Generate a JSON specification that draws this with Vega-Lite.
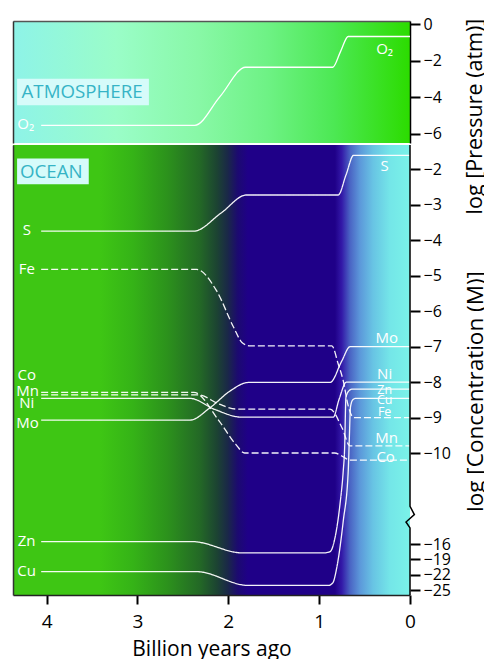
{
  "$schema": "https://vega.github.io/schema/vega-lite/v6.json",
  "padding": {"left": 13, "top": 16, "right": 0, "bottom": 0},
  "background": "white",
  "bounds": "flush",
  "config": {
    "font": "Open Sans",
    "view": {"stroke": null},
    "axis": {"grid": false, "labelFont": "Open Sans", "titleFont": "Open Sans", "titleFontWeight": "normal", "labelColor": "#000", "titleColor": "#000", "tickColor": "#000", "domainColor": "#000"}
  },
  "datasets": {
    "boxes": [
      {"panel": "atm", "text": "ATMOSPHERE", "age": 4.325, "age2": 2.874, "value": -2.98, "value2": -4.44, "tage": 3.61, "tvalue": -3.70},
      {"panel": "ocean", "text": "OCEAN", "age": 4.325, "age2": 3.536, "value": -1.69, "value2": -2.42, "tage": 3.948, "tvalue": -2.08}
    ],
    "atm": [
      {"element": "O2", "style": "solid", "age": 4.06, "value": -5.54},
      {"element": "O2", "style": "solid", "age": 2.37, "value": -5.54},
      {"element": "O2", "style": "solid", "age": 2.09, "value": -3.95},
      {"element": "O2", "style": "solid", "age": 1.81, "value": -2.35},
      {"element": "O2", "style": "solid", "age": 0.85, "value": -2.35},
      {"element": "O2", "style": "solid", "age": 0.765, "value": -1.49},
      {"element": "O2", "style": "solid", "age": 0.68, "value": -0.66},
      {"element": "O2", "style": "solid", "age": 0, "value": -0.66}
    ],
    "ocean": [
      {"element": "S", "style": "solid", "age": 4.06, "value": -3.74},
      {"element": "S", "style": "solid", "age": 2.38, "value": -3.74},
      {"element": "S", "style": "solid", "age": 2.08, "value": -3.23},
      {"element": "S", "style": "solid", "age": 1.80, "value": -2.72},
      {"element": "S", "style": "solid", "age": 0.79, "value": -2.72},
      {"element": "S", "style": "solid", "age": 0.705, "value": -2.16},
      {"element": "S", "style": "solid", "age": 0.62, "value": -1.60},
      {"element": "S", "style": "solid", "age": 0, "value": -1.60},
      {"element": "Fe", "style": "dashed", "age": 4.06, "value": -4.82},
      {"element": "Fe", "style": "dashed", "age": 2.35, "value": -4.82},
      {"element": "Fe", "style": "dashed", "age": 2.13, "value": -5.42},
      {"element": "Fe", "style": "dashed", "age": 1.94, "value": -6.46},
      {"element": "Fe", "style": "dashed", "age": 1.85, "value": -6.88},
      {"element": "Fe", "style": "dashed", "age": 1.76, "value": -6.98},
      {"element": "Fe", "style": "dashed", "age": 0.86, "value": -6.98},
      {"element": "Fe", "style": "dashed", "age": 0.79, "value": -7.49},
      {"element": "Fe", "style": "dashed", "age": 0.735, "value": -7.96},
      {"element": "Fe", "style": "dashed", "age": 0.68, "value": -8.67},
      {"element": "Fe", "style": "dashed", "age": 0.62, "value": -9.0},
      {"element": "Fe", "style": "dashed", "age": 0, "value": -9.0},
      {"element": "Co", "style": "dashed", "age": 4.06, "value": -8.29},
      {"element": "Co", "style": "dashed", "age": 2.38, "value": -8.29},
      {"element": "Co", "style": "dashed", "age": 2.10, "value": -9.1},
      {"element": "Co", "style": "dashed", "age": 1.92, "value": -9.75},
      {"element": "Co", "style": "dashed", "age": 1.82, "value": -10.0},
      {"element": "Co", "style": "dashed", "age": 0.83, "value": -10.0},
      {"element": "Co", "style": "dashed", "age": 0.75, "value": -10.2},
      {"element": "Co", "style": "dashed", "age": 0.66, "value": -10.47},
      {"element": "Co", "style": "dashed", "age": 0, "value": -10.47},
      {"element": "Mn", "style": "dashed", "age": 4.06, "value": -8.36},
      {"element": "Mn", "style": "dashed", "age": 2.33, "value": -8.36},
      {"element": "Mn", "style": "dashed", "age": 2.10, "value": -8.62},
      {"element": "Mn", "style": "dashed", "age": 1.91, "value": -8.76},
      {"element": "Mn", "style": "dashed", "age": 0.88, "value": -8.76},
      {"element": "Mn", "style": "dashed", "age": 0.75, "value": -9.28},
      {"element": "Mn", "style": "dashed", "age": 0.66, "value": -9.80},
      {"element": "Mn", "style": "dashed", "age": 0, "value": -9.80},
      {"element": "Ni", "style": "solid", "age": 4.06, "value": -8.46},
      {"element": "Ni", "style": "solid", "age": 2.42, "value": -8.46},
      {"element": "Ni", "style": "solid", "age": 2.15, "value": -8.77},
      {"element": "Ni", "style": "solid", "age": 1.85, "value": -8.99},
      {"element": "Ni", "style": "solid", "age": 0.845, "value": -8.99},
      {"element": "Ni", "style": "solid", "age": 0.78, "value": -8.48},
      {"element": "Ni", "style": "solid", "age": 0.70, "value": -8.0},
      {"element": "Ni", "style": "solid", "age": 0, "value": -8.0},
      {"element": "Mo", "style": "solid", "age": 4.06, "value": -9.07},
      {"element": "Mo", "style": "solid", "age": 2.42, "value": -9.07},
      {"element": "Mo", "style": "solid", "age": 2.20, "value": -8.72},
      {"element": "Mo", "style": "solid", "age": 1.98, "value": -8.25},
      {"element": "Mo", "style": "solid", "age": 1.78, "value": -8.01},
      {"element": "Mo", "style": "solid", "age": 0.88, "value": -8.01},
      {"element": "Mo", "style": "solid", "age": 0.75, "value": -7.4},
      {"element": "Mo", "style": "solid", "age": 0.66, "value": -7.0},
      {"element": "Mo", "style": "solid", "age": 0, "value": -7.0},
      {"element": "Zn", "style": "solid", "age": 4.06, "value": -15.84},
      {"element": "Zn", "style": "solid", "age": 2.40, "value": -15.84},
      {"element": "Zn", "style": "solid", "age": 1.84, "value": -17.75},
      {"element": "Zn", "style": "solid", "age": 0.95, "value": -17.75},
      {"element": "Zn", "style": "solid", "age": 0.88, "value": -17.5},
      {"element": "Zn", "style": "solid", "age": 0.826, "value": -15.6},
      {"element": "Zn", "style": "solid", "age": 0.771, "value": -13.4},
      {"element": "Zn", "style": "solid", "age": 0.735, "value": -11.2},
      {"element": "Zn", "style": "solid", "age": 0.72, "value": -9.9},
      {"element": "Zn", "style": "solid", "age": 0.705, "value": -8.43},
      {"element": "Zn", "style": "solid", "age": 0.67, "value": -8.24},
      {"element": "Zn", "style": "solid", "age": 0.64, "value": -8.2},
      {"element": "Zn", "style": "solid", "age": 0, "value": -8.2},
      {"element": "Cu", "style": "solid", "age": 4.06, "value": -21.4},
      {"element": "Cu", "style": "solid", "age": 2.35, "value": -21.4},
      {"element": "Cu", "style": "solid", "age": 1.78, "value": -24.1},
      {"element": "Cu", "style": "solid", "age": 0.90, "value": -24.1},
      {"element": "Cu", "style": "solid", "age": 0.85, "value": -23.6},
      {"element": "Cu", "style": "solid", "age": 0.807, "value": -20.7},
      {"element": "Cu", "style": "solid", "age": 0.735, "value": -14.5},
      {"element": "Cu", "style": "solid", "age": 0.68, "value": -11.2},
      {"element": "Cu", "style": "solid", "age": 0.668, "value": -9.6},
      {"element": "Cu", "style": "solid", "age": 0.655, "value": -8.7},
      {"element": "Cu", "style": "solid", "age": 0.63, "value": -8.5},
      {"element": "Cu", "style": "solid", "age": 0.60, "value": -8.46},
      {"element": "Cu", "style": "solid", "age": 0, "value": -8.46}
    ],
    "labels": [
      {"panel": "atm", "side": "left", "label": "O₂", "age": 4.23, "value": -5.45},
      {"panel": "atm", "side": "right", "label": "O₂", "age": 0.28, "value": -1.36},
      {"panel": "ocean", "side": "left", "label": "S", "age": 4.218, "value": -3.71},
      {"panel": "ocean", "side": "left", "label": "Fe", "age": 4.218, "value": -4.81},
      {"panel": "ocean", "side": "left", "label": "Co", "age": 4.218, "value": -7.8},
      {"panel": "ocean", "side": "left", "label": "Mn", "age": 4.21, "value": -8.25},
      {"panel": "ocean", "side": "left", "label": "Ni", "age": 4.218, "value": -8.6},
      {"panel": "ocean", "side": "left", "label": "Mo", "age": 4.21, "value": -9.16},
      {"panel": "ocean", "side": "left", "label": "Zn", "age": 4.22, "value": -15.82},
      {"panel": "ocean", "side": "left", "label": "Cu", "age": 4.22, "value": -21.32},
      {"panel": "ocean", "side": "right", "label": "S", "age": 0.279, "value": -1.91},
      {"panel": "ocean", "side": "right", "label": "Mo", "age": 0.257, "value": -6.76},
      {"panel": "ocean", "side": "right", "label": "Ni", "age": 0.279, "value": -7.77},
      {"panel": "ocean", "side": "right", "label": "Zn", "age": 0.279, "value": -8.21},
      {"panel": "ocean", "side": "right", "label": "Cu", "age": 0.279, "value": -8.51},
      {"panel": "ocean", "side": "right", "label": "Fe", "age": 0.279, "value": -8.85},
      {"panel": "ocean", "side": "right", "label": "Mn", "age": 0.257, "value": -9.58},
      {"panel": "ocean", "side": "right", "label": "Co", "age": 0.268, "value": -10.25}
    ],
    "axisBreak": [
      {"i": 0, "age": 0, "value": -1.31},
      {"i": 1, "age": 0, "value": -13.51},
      {"i": 2, "age": -0.048, "value": -14.06},
      {"i": 3, "age": 0.044, "value": -14.55},
      {"i": 4, "age": 0, "value": -14.94},
      {"i": 5, "age": 0, "value": -25.97}
    ]
  },
  "spacing": 2,
  "vconcat": [
    {
      "width": 397,
      "height": 122,
      "view": {
        "stroke": null,
        "fill": {
          "gradient": "linear", "x1": 0, "y1": 0, "x2": 1, "y2": 0,
          "stops": [
            {"offset": 0, "color": "#8ef3e8"},
            {"offset": 0.26, "color": "#9afdc8"},
            {"offset": 0.47, "color": "#88f8a6"},
            {"offset": 0.64, "color": "#6ef285"},
            {"offset": 0.81, "color": "#4ce853"},
            {"offset": 1, "color": "#2cdc00"}
          ]
        }
      },
      "resolve": {"axis": {"y": "independent"}},
      "layer": [
        {
          "data": {"name": "boxes"},
          "transform": [{"filter": "datum.panel === 'atm'"}],
          "mark": {"type": "rect", "color": "#d6fbfa"},
          "encoding": {
            "x": {"field": "age", "type": "quantitative", "scale": {"domain": [0, 4.37], "reverse": true, "nice": false, "zero": false},
                  "axis": {"orient": "top", "labels": false, "ticks": false, "title": null, "domainColor": "#555", "domainWidth": 1.5}},
            "x2": {"field": "age2"},
            "y": {"field": "value", "type": "quantitative", "scale": {"domain": [-6.51, 0.19], "nice": false, "zero": false},
                  "axis": {"orient": "left", "labels": false, "ticks": false, "title": null, "domainColor": "#333", "domainWidth": 1.5}},
            "y2": {"field": "value2"}
          }
        },
        {
          "data": {"name": "boxes"},
          "transform": [{"filter": "datum.panel === 'atm'"}],
          "mark": {"type": "text", "color": "#36b4c6", "fontSize": 18.7, "align": "center", "baseline": "middle"},
          "encoding": {
            "x": {"field": "tage", "type": "quantitative"},
            "y": {"field": "tvalue", "type": "quantitative", "axis": null},
            "text": {"field": "text"}
          }
        },
        {
          "data": {"name": "atm"},
          "mark": {"type": "line", "color": "white", "strokeWidth": 1.3, "interpolate": "monotone"},
          "encoding": {
            "x": {"field": "age", "type": "quantitative"},
            "y": {"field": "value", "type": "quantitative",
                  "axis": {"orient": "right", "values": [0, -2, -4, -6], "title": "log [Pressure (atm)]", "titleAngle": 270, "titleX": 65, "titleY": 95, "titleAlign": "center", "titleBaseline": "middle", "titleFontSize": 21.5, "labelFontSize": 16, "tickSize": 10, "tickWidth": 2, "labelPadding": 3, "domainWidth": 1.5, "labelOverlap": false}},
            "order": {"field": "age", "sort": "descending"}
          }
        },
        {
          "data": {"name": "labels"},
          "transform": [{"filter": "datum.panel === 'atm'"}],
          "mark": {"type": "text", "color": "white", "fontSize": 15, "align": "center", "baseline": "middle"},
          "encoding": {
            "x": {"field": "age", "type": "quantitative"},
            "y": {"field": "value", "type": "quantitative", "axis": null},
            "text": {"field": "label"}
          }
        }
      ]
    },
    {
      "width": 397,
      "height": 450,
      "view": {
        "stroke": null,
        "fill": {
          "gradient": "linear", "x1": 0, "y1": 0, "x2": 1, "y2": 0,
          "stops": [
            {"offset": 0, "color": "#3ec614"},
            {"offset": 0.219, "color": "#3ec614"},
            {"offset": 0.302, "color": "#35b317"},
            {"offset": 0.388, "color": "#2c921c"},
            {"offset": 0.471, "color": "#236826"},
            {"offset": 0.513, "color": "#1c4432"},
            {"offset": 0.541, "color": "#1a2848"},
            {"offset": 0.566, "color": "#1c0a70"},
            {"offset": 0.592, "color": "#1f0088"},
            {"offset": 0.811, "color": "#1f0088"},
            {"offset": 0.828, "color": "#3318a8"},
            {"offset": 0.849, "color": "#4a64c4"},
            {"offset": 0.874, "color": "#5c98da"},
            {"offset": 0.907, "color": "#68c4e4"},
            {"offset": 0.95, "color": "#74e6e8"},
            {"offset": 1, "color": "#7af2e8"}
          ]
        }
      },
      "resolve": {"axis": {"y": "independent"}},
      "layer": [
        {
          "data": {"name": "boxes"},
          "transform": [{"filter": "datum.panel === 'ocean'"}],
          "mark": {"type": "rect", "color": "#d6fbfa"},
          "encoding": {
            "x": {"field": "age", "type": "quantitative", "scale": {"domain": [0, 4.37], "reverse": true, "nice": false, "zero": false},
                  "axis": {"orient": "bottom", "values": [0, 1, 2, 3, 4], "format": "d", "title": "Billion years ago", "titleFontSize": 21, "labelFontSize": 19, "labelFlush": false, "tickSize": 9, "tickWidth": 2, "labelPadding": 8, "titlePadding": 7, "domainColor": "#222", "domainWidth": 1.5}},
            "x2": {"field": "age2"},
            "y": {"field": "value", "type": "quantitative", "scale": {"domain": [-25.97, -16, -10, -1.31], "range": [450, 399, 308, 0], "nice": false, "zero": false},
                  "axis": {"orient": "left", "labels": false, "ticks": false, "title": null, "domainColor": "#333", "domainWidth": 1.5}},
            "y2": {"field": "value2"}
          }
        },
        {
          "data": {"name": "boxes"},
          "transform": [{"filter": "datum.panel === 'ocean'"}],
          "mark": {"type": "text", "color": "#36b4c6", "fontSize": 18.7, "align": "center", "baseline": "middle"},
          "encoding": {
            "x": {"field": "tage", "type": "quantitative"},
            "y": {"field": "tvalue", "type": "quantitative", "axis": null},
            "text": {"field": "text"}
          }
        },
        {
          "data": {"name": "ocean"},
          "mark": {"type": "line", "color": "white", "strokeWidth": 1.3, "interpolate": "monotone", "opacity": 0.95},
          "encoding": {
            "x": {"field": "age", "type": "quantitative"},
            "y": {"field": "value", "type": "quantitative",
                  "axis": {"orient": "right", "values": [-2, -3, -4, -5, -6, -7, -8, -9, -10, -16, -19, -22, -25], "title": "log [Concentration (M)]", "titleAngle": 270, "titleX": 65, "titleY": 246, "titleAlign": "center", "titleBaseline": "middle", "titleFontSize": 22.5, "labelFontSize": 16, "tickSize": 10, "tickWidth": 2, "labelPadding": 3, "domain": false, "labelOverlap": false}},
            "detail": {"field": "element"},
            "strokeDash": {"field": "style", "type": "nominal", "scale": {"domain": ["solid", "dashed"], "range": [[1, 0], [7, 3]]}, "legend": null},
            "order": {"field": "age", "sort": "descending"}
          }
        },
        {
          "data": {"name": "axisBreak"},
          "mark": {"type": "line", "color": "black", "strokeWidth": 1.5, "clip": false},
          "encoding": {
            "x": {"field": "age", "type": "quantitative"},
            "y": {"field": "value", "type": "quantitative", "axis": null},
            "order": {"field": "i"}
          }
        },
        {
          "data": {"name": "labels"},
          "transform": [{"filter": "datum.panel === 'ocean'"}],
          "mark": {"type": "text", "color": "white", "align": "center", "baseline": "middle"},
          "encoding": {
            "x": {"field": "age", "type": "quantitative"},
            "y": {"field": "value", "type": "quantitative", "axis": null},
            "text": {"field": "label"},
            "size": {"condition": {"test": "datum.side === 'right' && (datum.label === 'Zn' || datum.label === 'Cu' || datum.label === 'Fe')", "value": 12.5}, "value": 15}
          }
        }
      ]
    }
  ]
}
